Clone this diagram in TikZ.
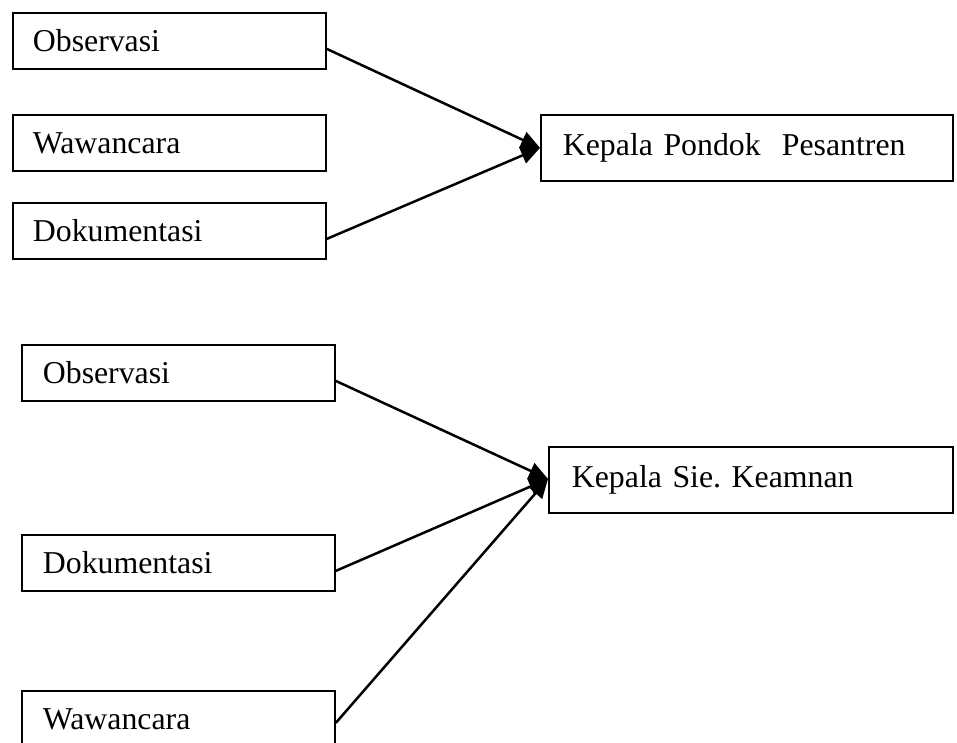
\documentclass[tikz,border=0pt]{standalone}
\usepackage{fontspec}
\setmainfont{Liberation Serif}
\usetikzlibrary{arrows.meta,positioning}
\tikzset{
  srcbox/.style={draw, line width=1.8pt, anchor=north west, minimum width=313pt, minimum height=56pt,
    inner xsep=20pt, text width=273pt, align=left, font=\fontsize{31.8}{38}\selectfont\frenchspacing},
  dstbox/.style={draw, line width=1.8pt, anchor=north west, minimum height=66pt,
    inner xsep=22pt, align=left, font=\fontsize{31.8}{38}\selectfont\frenchspacing},
  conn/.style={line width=2.5pt, -{Triangle[length=19pt,width=17pt]}}
}
\begin{document}
\begin{tikzpicture}[x=1pt,y=-1pt]
\useasboundingbox (0,0) rectangle (957,742);
\clip (0,0) rectangle (957,742);
% top group
\node[srcbox] (obs1) at (12,12) {Observasi};
\node[srcbox] (waw1) at (12,114) {Wawancara};
\node[srcbox] (dok1) at (12,202) {Dokumentasi};
\node[dstbox, minimum width=412pt, text width=368pt] (kpp) at (540,114) {Kepala Pondok\ \ Pesantren};
\draw[conn] ([yshift=-8pt]obs1.east) -- (kpp.west);
\draw[conn] ([yshift=-8pt]dok1.east) -- (kpp.west);
% bottom group
\node[srcbox, text width=271pt, inner xsep=21pt] (obs2) at (21,344) {Observasi};
\node[srcbox, text width=271pt, inner xsep=21pt] (dok2) at (21,534) {Dokumentasi};
\node[srcbox, text width=271pt, inner xsep=21pt] (waw2) at (21,690) {Wawancara};
\node[dstbox, minimum width=404pt, text width=358pt, inner xsep=23pt] (ksk) at (548,446) {Kepala Sie. Keamnan};
\draw[conn] ([yshift=-8pt]obs2.east) -- ([yshift=1pt]ksk.west);
\draw[conn] ([yshift=-8pt]dok2.east) -- ([yshift=1pt]ksk.west);
\draw[conn] ([yshift=-4pt]waw2.east) -- ([yshift=1pt]ksk.west);
\end{tikzpicture}
\end{document}
